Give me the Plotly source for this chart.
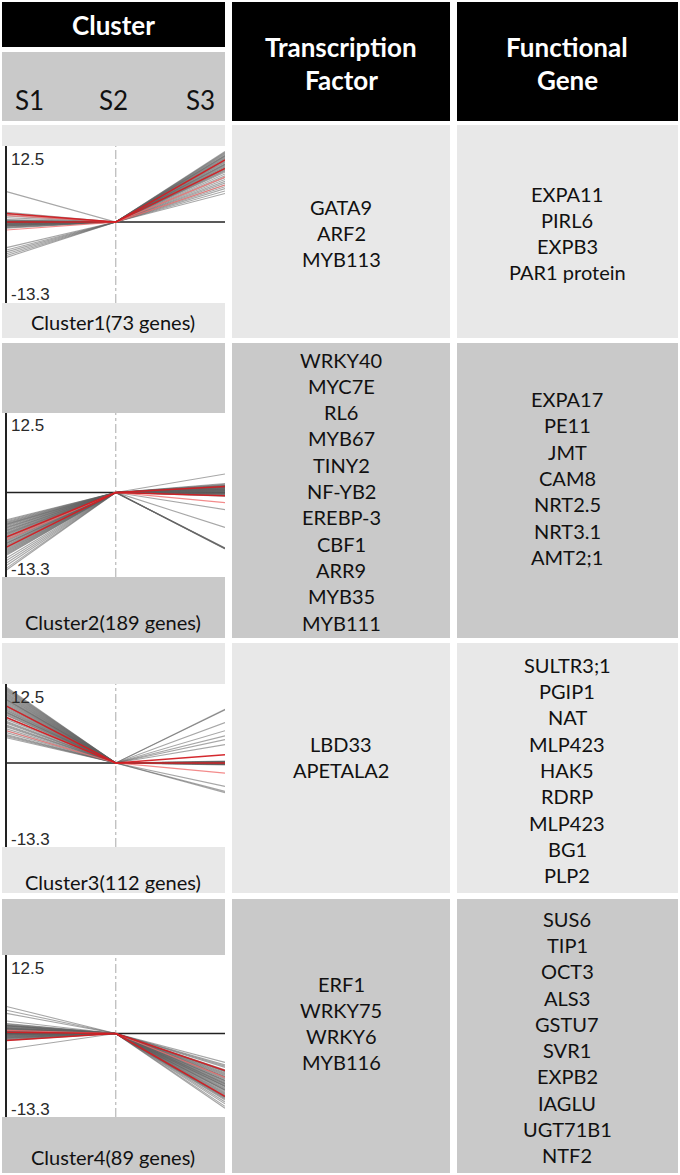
import plotly.graph_objects as go

# ---- data -------------------------------------------------------------
stages = ["S1", "S2", "S3"]
cluster_labels = ["Cluster1(73 genes)", "Cluster2(189 genes)",
                  "Cluster3(112 genes)", "Cluster4(89 genes)"]
y_min, y_max = -13.3, 12.5

tf_genes = [
    ["GATA9", "ARF2", "MYB113"],
    ["WRKY40", "MYC7E", "RL6", "MYB67", "TINY2", "NF-YB2", "EREBP-3",
     "CBF1", "ARR9", "MYB35", "MYB111"],
    ["LBD33", "APETALA2"],
    ["ERF1", "WRKY75", "WRKY6", "MYB116"],
]
fg_genes = [
    ["EXPA11", "PIRL6", "EXPB3", "PAR1 protein"],
    ["EXPA17", "PE11", "JMT", "CAM8", "NRT2.5", "NRT3.1", "AMT2;1"],
    ["SULTR3;1", "PGIP1", "NAT", "MLP423", "HAK5", "RDRP", "MLP423",
     "BG1", "PLP2"],
    ["SUS6", "TIP1", "OCT3", "ALS3", "GSTU7", "SVR1", "EXPB2", "IAGLU",
     "UGT71B1", "NTF2"],
]

# profiles (value at S2 is 0 for every gene); S1 and S3 values
c1_gray_s1 = [5.0, 1.6, 1.3, 1.0, 0.7, 0.4, 0.2, 0.0, -0.2, -0.4, -0.6, -0.8,
              -1.0, 0.1, -0.3, 0.3, -0.5, -4.2, -4.6, -4.9, -5.2, -5.5, -5.8, -0.1,
              0.0, -0.2, -0.4, -0.6, 0.1, -0.7, -0.3, 0.2, -0.9, -0.5, 0.0, -0.1]
c1_gray_s3 = [11.6, 11.3, 11.0, 10.8, 10.5, 10.2, 9.9, 9.6, 9.4, 9.1, 8.8, 8.5,
              8.2, 7.9, 7.6, 7.3, 7.0, 6.7, 6.4, 6.1, 5.8, 5.5, 5.1, 4.7,
              11.45, 11.15, 10.9, 10.65, 10.35, 10.05, 9.75, 9.5, 9.25, 8.95, 8.65, 8.35]
c1_red_s1 = [0.0, 1.4]
c1_red_s3 = [10.2, 8.8]
c1_pink_s1 = [1.1, -1.3]
c1_pink_s3 = [7.4, 6.1]

c2_gray_s1 = [-4.3, -4.6, -4.9, -5.1, -5.4, -5.6, -5.9, -6.1, -6.4, -6.6, -6.9,
              -7.2, -7.5, -7.8, -8.1, -8.4, -8.7, -9.0, -9.3, -9.6, -9.9, -10.3,
              -10.7, -11.1, -11.5, -11.9, -12.2, -5.0, -6.0, -8.0,
              -4.45, -4.75, -5.25, -5.5, -5.75, -6.25, -6.5, -6.75, -7.05, -7.35,
              -7.65, -7.95, -8.25, -8.55, -8.85, -9.15, -9.45, -9.75]
c2_gray_s3 = [2.9, 1.4, 1.2, 1.0, 0.9, 0.8, 0.7, 0.6, 0.5, 0.4, 0.3, 0.2, 0.1,
              0.0, -0.1, -0.2, -0.3, -0.4, -0.5, -0.6, 1.1, 0.5, -2.7, -5.5,
              -8.8, -8.8, -8.9, 0.8, 0.3, -0.2,
              1.3, 1.1, 0.95, 0.85, 0.75, 0.65, 0.55, 0.45, 0.35, 0.25, 0.15,
              0.05, -0.05, -0.15, -0.25, -8.8, -8.7, -0.45]
c2_red_s1 = [-8.6, -7.0]
c2_red_s3 = [0.95, -0.5]
c2_pink_s1 = [-7.4]
c2_pink_s3 = [-1.6]

c3_gray_s1 = [12.0, 11.7, 11.4, 11.1, 10.8, 10.5, 10.2, 9.9, 9.6, 9.3, 9.0, 8.7,
              8.4, 8.1, 7.8, 7.5, 7.2, 6.9, 6.6, 6.3, 6.0, 5.7, 5.4, 5.1, 4.8,
              4.5, 4.2, 4.0, 10.0, 8.0,
              11.85, 11.55, 11.25, 10.95, 10.65, 10.35, 10.05, 9.75, 9.45, 9.15,
              8.85, 8.55, 8.25, 7.95, 7.65, 6.45, 5.85, 4.35]
c3_gray_s3 = [8.5, 8.4, 6.4, 5.1, 4.3, 3.7, 2.9, -3.7, -4.7, -4.5, 0.0, 0.1,
              -0.1, 0.2, -0.2, 0.0, 0.3, -0.3, 0.0, 0.1, -0.1, 0.0, 0.2, -0.2,
              0.0, 0.1, -0.1, 0.0, 0.0, 0.0,
              0.0, 0.1, -0.1, 0.0, 0.2, -0.2, 0.0, 0.1, -0.1, 0.0, 0.0, 0.1,
              -0.1, 0.0, 0.2, -0.2, 0.0, 0.0]
c3_red_s1 = [9.0, 7.2]
c3_red_s3 = [0.0, 1.3]
c3_pink_s1 = [5.1]
c3_pink_s3 = [-1.6]

c4_gray_s1 = [4.3, 3.7, 3.2, 1.6, 1.4, 1.2, 1.0, 0.8, 0.6, 0.4, 0.2, 0.0, -0.2,
              -0.4, -0.6, -0.8, -1.0, -1.1, 0.9, 0.5, 0.1, -0.3, -0.7, 1.3, 0.7,
              -0.5, -2.5, 0.3, -0.1, 2.0,
              1.5, 1.1, 0.7, 0.3, -0.1, -0.5, -0.9, 1.3, 0.9, 0.5, 0.1, -0.3,
              -0.7, 0.0, 0.4, 0.8, -0.2, 1.2]
c4_gray_s3 = [-4.6, -5.0, -5.4, -5.8, -6.1, -6.4, -6.7, -7.0, -7.3, -7.6, -7.9,
              -8.2, -8.5, -8.8, -9.1, -9.4, -9.7, -10.0, -10.3, -10.6, -10.9,
              -11.2, -11.6, -11.9, -6.0, -8.0, -9.0, -10.1, -7.5, -5.2,
              -5.95, -6.25, -6.55, -6.85, -7.15, -7.45, -7.75, -8.05, -8.35, -8.65,
              -8.95, -9.25, -9.55, -9.85, -10.15, -10.45, -6.9, -8.4]
c4_red_s1 = [0.2, -1.1]
c4_red_s3 = [-5.9, -10.0]
c4_pink_s1 = [0.5]
c4_pink_s3 = [-7.0]

profiles = [
    (c1_gray_s1, c1_gray_s3, c1_pink_s1, c1_pink_s3, c1_red_s1, c1_red_s3),
    (c2_gray_s1, c2_gray_s3, c2_pink_s1, c2_pink_s3, c2_red_s1, c2_red_s3),
    (c3_gray_s1, c3_gray_s3, c3_pink_s1, c3_pink_s3, c3_red_s1, c3_red_s3),
    (c4_gray_s1, c4_gray_s3, c4_pink_s1, c4_pink_s3, c4_red_s1, c4_red_s3),
]

# ---- layout (pixel geometry of the table) -----------------------------
W, H = 680, 1175
FONT = "Lato"
LIGHT, DARK = "#e8e8e8", "#c9c9c9"
col1, col2, col3 = (2, 225), (232, 450), (457, 678)
rows = [(125, 338), (343, 638), (643, 893), (899, 1173)]
row_colors = [LIGHT, DARK, LIGHT, DARK]
plot_rows = [(146, 303), (413, 577), (684, 847), (955, 1117)]
label_y = [322, 622, 882, 1157]
tf_center = [233, 491, 757, 1023]
fg_center = [233, 478, 770, 1037]
line_gap = 26.3
plot_x0, plot_x1 = 6.5, 225


def px(x):
    return x / W


def py(y):
    return 1 - y / H


shapes = []
annotations = []


def rect(x0, y0, x1, y1, color):
    shapes.append(dict(type="rect", xref="paper", yref="paper",
                       x0=px(x0), x1=px(x1), y0=py(y1), y1=py(y0),
                       fillcolor=color, line=dict(width=0), layer="below"))


def text(x, y, s, size, color="#111111", bold=False, family=FONT):
    annotations.append(dict(x=px(x), y=py(y), xref="paper", yref="paper",
                            text=f"<b>{s}</b>" if bold else s, showarrow=False,
                            xanchor="center", yanchor="middle",
                            font=dict(family=family, size=size, color=color)))


# header
rect(col1[0], 2, col1[1], 47, "black")
rect(col1[0], 52, col1[1], 121, DARK)
rect(col2[0], 2, col2[1], 121, "black")
rect(col3[0], 2, col3[1], 121, "black")
text(113, 25, "Cluster", 26, "white", True)
text(341, 47, "Transcription", 26, "white", True)
text(341, 80, "Factor", 26, "white", True)
text(567, 47, "Functional", 26, "white", True)
text(567, 80, "Gene", 26, "white", True)
for sx, s in zip([29, 114, 200], stages):
    text(sx, 100, s, 26)

fig = go.Figure()

for k in range(4):
    r0, r1 = rows[k]
    for c in (col1, col2, col3):
        rect(c[0], r0, c[1], r1, row_colors[k])
    t0, t1 = plot_rows[k]
    rect(col1[0], t0, col1[1], t1, "white")
    text(113, label_y[k], cluster_labels[k], 20)

    for lst, cy, cx in ((tf_genes[k], tf_center[k], 341), (fg_genes[k], fg_center[k], 567)):
        n = len(lst)
        for i, g in enumerate(lst):
            text(cx, cy + (i - (n - 1) / 2) * line_gap, g, 20)

    n = k + 1
    xa, ya = f"x{n}" if n > 1 else "x", f"y{n}" if n > 1 else "y"
    g1, g3, p1, p3, r1s, r3s = profiles[k]
    for s1, s3 in zip(g1, g3):
        fig.add_trace(go.Scatter(x=stages, y=[s1, 0, s3], mode="lines",
                                 line=dict(color="rgba(95,95,95,0.55)", width=1.1),
                                 xaxis=xa, yaxis=ya, showlegend=False, hoverinfo="skip"))
    for s1, s3 in zip(p1, p3):
        fig.add_trace(go.Scatter(x=stages, y=[s1, 0, s3], mode="lines",
                                 line=dict(color="rgba(240,110,110,0.8)", width=1.2),
                                 xaxis=xa, yaxis=ya, showlegend=False, hoverinfo="skip"))
    for s1, s3 in zip(r1s, r3s):
        fig.add_trace(go.Scatter(x=stages, y=[s1, 0, s3], mode="lines",
                                 line=dict(color="rgba(210,30,35,0.95)", width=1.5),
                                 xaxis=xa, yaxis=ya, showlegend=False, hoverinfo="skip"))

    suffix = "" if n == 1 else str(n)
    fig.update_layout(**{
        f"xaxis{suffix}": dict(domain=[px(plot_x0), px(plot_x1)], anchor=ya,
                               range=[0, 2], visible=False, type="category"),
        f"yaxis{suffix}": dict(domain=[py(t1), py(t0)], anchor=xa,
                               range=[y_min, y_max], showgrid=False, zeroline=False,
                               showticklabels=False, ticks="", showline=True,
                               linecolor="#222", linewidth=1.6),
    })
    # zero reference and S2 guide
    shapes.append(dict(type="line", xref=f"{xa} domain", yref=ya, x0=0, x1=1,
                       y0=0, y1=0, line=dict(color="#222", width=1.4), layer="below"))
    shapes.append(dict(type="line", xref=xa, yref=f"{ya} domain", x0="S2", x1="S2",
                       y0=0, y1=1, line=dict(color="#b8b8b8", width=1.2, dash="dashdot"),
                       layer="below"))
    for val, yy, shift in ((y_max, 1, -13), (y_min, 0, 8)):
        annotations.append(dict(x=0, y=yy, xref=f"{xa} domain", yref=f"{ya} domain",
                                text=f"{val}", showarrow=False, xanchor="left",
                                yanchor="middle", xshift=2, yshift=shift,
                                font=dict(family="Liberation Sans", size=17, color="#2a2a2a")))

fig.update_layout(width=W, height=H, margin=dict(l=0, r=0, t=0, b=0),
                  paper_bgcolor="white", plot_bgcolor="rgba(0,0,0,0)",
                  shapes=shapes, annotations=annotations, showlegend=False)

fig.write_html("out.html", config={"displayModeBar": False},
               post_script="document.body.style.margin='0';")
